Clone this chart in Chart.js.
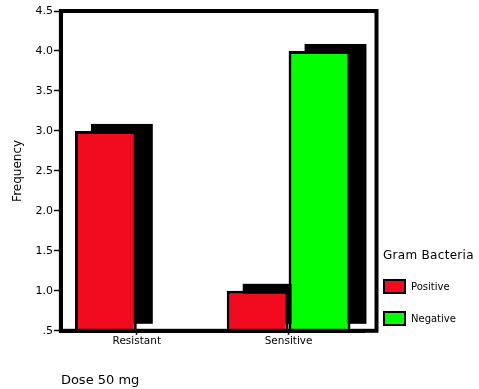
<!DOCTYPE html>
<html>
<head>
<meta charset="utf-8">
<script src="https://cdn.jsdelivr.net/npm/chart.js@4"></script>
<style>
  body { margin: 0; background: #fff; }
  #wrap { position: relative; width: 479px; height: 389px; }
  #legend { position: absolute; left: 383px; top: 248px; font-family: "DejaVu Sans", sans-serif; color: #000; }
  #legend .title { font-size: 12px; line-height: 14px; white-space: nowrap; letter-spacing: 0.3px; }
  #legend .item { display: flex; align-items: center; height: 15px; margin-top: 17px; font-size: 10px; }
  #legend .item:first-of-type { margin-top: 20px; }
  #legend .box { box-sizing: border-box; width: 23px; height: 15px; border: 2.5px solid #000; margin-right: 5px; }
</style>
</head>
<body>
<div id="wrap">
  <canvas id="chart" width="479" height="389"></canvas>
  <div id="legend"></div>
</div>
<script>
// data
const categories = ["Resistant", "Sensitive"];
const seriesNames = ["Positive", "Negative"];
const positiveCounts = [3, 1];
const negativeCounts = [0, 4];
const yTickLabels = [".5", "1.0", "1.5", "2.0", "2.5", "3.0", "3.5", "4.0", "4.5"];

const seriesColors = ["#f20a1f", "#00ff00"];

// black drop shadow behind each bar (offset up/right like the SPSS 3D look)
const barShadow = {
  id: "barShadow",
  beforeDatasetsDraw(chart) {
    const { ctx, chartArea } = chart;
    const yMin = chart.scales.y.min;
    ctx.save();
    ctx.fillStyle = "#000";
    chart.data.datasets.forEach((ds, di) => {
      chart.getDatasetMeta(di).data.forEach((bar, i) => {
        if (ds.data[i] <= yMin) return;
        const { x, y, base, width } = bar.getProps(["x", "y", "base", "width"], true);
        const bottom = Math.min(base, chartArea.bottom);
        ctx.fillRect(x - width / 2 + 16, y - 7, width, bottom - y);
      });
    });
    ctx.restore();
  },
};

// box round the plot, a bit wider than the category area
const plotFrame = {
  id: "plotFrame",
  afterDatasetsDraw(chart) {
    const { ctx, chartArea: a } = chart;
    ctx.save();
    ctx.strokeStyle = "#000";
    ctx.lineWidth = 4;
    ctx.strokeRect(a.left, a.top, a.right + 12 - a.left, a.bottom - a.top);
    ctx.restore();
  },
};

new Chart(document.getElementById("chart"), {
  type: "bar",
  data: {
    labels: categories,
    datasets: [
      {
        label: seriesNames[0],
        data: positiveCounts,
        backgroundColor: seriesColors[0],
      },
      {
        label: seriesNames[1],
        data: negativeCounts,
        backgroundColor: seriesColors[1],
      },
    ],
  },
  options: {
    responsive: false,
    animation: false,
    devicePixelRatio: 1,
    layout: { padding: { top: 11, right: 114.5, left: 0, bottom: 0 } },
    datasets: {
      bar: {
        borderColor: "#000",
        borderWidth: 3,
        borderSkipped: "start",
        barPercentage: 1,
        categoryPercentage: 0.815,
        clip: 0,
      },
    },
    plugins: {
      legend: { display: false },
      tooltip: { enabled: false },
    },
    scales: {
      x: {
        grid: {
          display: true,
          offset: false,
          drawOnChartArea: false,
          drawTicks: true,
          tickLength: 4,
          tickColor: "#000",
          tickWidth: 1.5,
        },
        border: { display: true, color: "#000", width: 4 },
        ticks: {
          padding: 0,
          color: "#000",
          font: { family: "DejaVu Sans", size: 10.5 },
        },
        title: {
          display: true,
          text: "Dose 50 mg",
          align: "start",
          color: "#000",
          font: { family: "DejaVu Sans", size: 13 },
          padding: { top: 25, bottom: 1 },
        },
      },
      y: {
        min: 0.5,
        max: 4.5,
        ticks: {
          stepSize: 0.5,
          padding: 1,
          color: "#000",
          font: { family: "DejaVu Sans", size: 11 },
          callback: (value, index) => yTickLabels[index],
        },
        grid: {
          display: true,
          drawOnChartArea: false,
          drawTicks: true,
          tickLength: 7,
          tickColor: "#000",
          tickWidth: 1.5,
        },
        border: { display: true, color: "#000", width: 4 },
        title: {
          display: true,
          text: "Frequency",
          color: "#000",
          font: { family: "DejaVu Sans", size: 12 },
          padding: { top: 11, bottom: 9 },
        },
      },
    },
  },
  plugins: [barShadow, plotFrame],
});

// legend on the right, built from the series names
const legend = document.getElementById("legend");
legend.innerHTML =
  '<div class="title">Gram Bacteria</div>' +
  seriesNames
    .map(
      (name, i) =>
        `<div class="item"><span class="box" style="background:${seriesColors[i]}"></span>${name}</div>`
    )
    .join("");
</script>
</body>
</html>
